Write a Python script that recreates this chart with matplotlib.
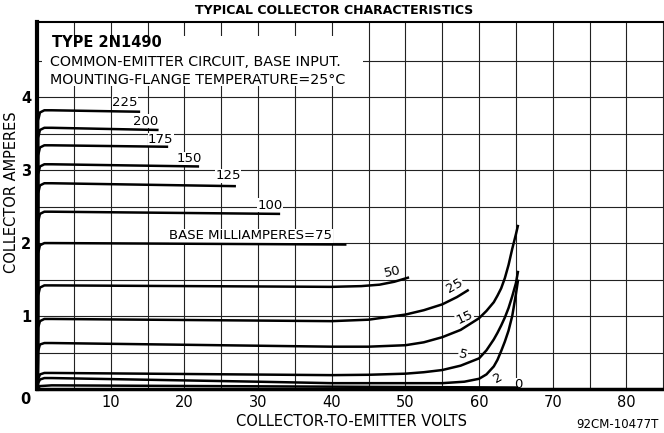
import matplotlib
matplotlib.use("Agg")
import matplotlib.pyplot as plt
from matplotlib.patches import Rectangle

# collector curves: (volts, amperes) for each base current in mA
base_ma = [225, 200, 175, 150, 125, 100, 75, 50, 25, 15, 5, 2, 0]

v225 = [0.1, 0.15, 0.4, 1.0, 2.0, 14.0]
i225 = [0.0, 3.68, 3.79, 3.82, 3.82, 3.80]
v200 = [0.1, 0.15, 0.4, 1.0, 2.0, 16.5]
i200 = [0.0, 3.44, 3.55, 3.58, 3.58, 3.55]
v175 = [0.1, 0.15, 0.4, 1.0, 2.0, 17.8]
i175 = [0.0, 3.20, 3.31, 3.34, 3.34, 3.32]
v150 = [0.1, 0.15, 0.4, 1.0, 2.0, 22.0]
i150 = [0.0, 2.94, 3.05, 3.08, 3.08, 3.05]
v125 = [0.1, 0.15, 0.4, 1.0, 2.0, 27.0]
i125 = [0.0, 2.68, 2.79, 2.82, 2.82, 2.78]
v100 = [0.1, 0.15, 0.4, 1.0, 2.0, 33.0]
i100 = [0.0, 2.29, 2.40, 2.43, 2.43, 2.40]
v75 = [0.1, 0.15, 0.4, 1.0, 2.0, 42.0]
i75 = [0.0, 1.86, 1.97, 2.00, 2.00, 1.98]
v50 = [0.1, 0.15, 0.4, 1.0, 2.0, 40.0, 44.0, 46.5, 48.5, 50.5]
i50 = [0.0, 1.28, 1.39, 1.42, 1.42, 1.40, 1.41, 1.43, 1.47, 1.53]
v25 = [0.1, 0.15, 0.4, 1.0, 2.0, 40.0, 45.0, 50.0, 52.5, 55.0, 57.0, 58.6]
i25 = [0.0, 0.84, 0.93, 0.96, 0.96, 0.93, 0.95, 1.02, 1.08, 1.16, 1.26, 1.36]
v15 = [0.1, 0.15, 0.4, 1.0, 2.0, 40.0, 45.0, 50.0, 52.5, 55.0, 57.5, 60.0, 61.0,
       62.0, 62.5, 63.0, 63.5, 64.0, 64.5, 65.0, 65.3]
i15 = [0.0, 0.52, 0.61, 0.63, 0.63, 0.58, 0.58, 0.60, 0.64, 0.71, 0.81, 0.97, 1.07,
       1.19, 1.28, 1.38, 1.52, 1.70, 1.92, 2.12, 2.25]
v5 = [0.1, 0.15, 0.4, 1.0, 2.0, 40.0, 45.0, 50.0, 52.5, 55.0, 57.5, 60.0, 61.0,
      62.0, 62.5, 63.0, 63.5, 64.0, 64.5, 65.0, 65.3]
i5 = [0.0, 0.13, 0.20, 0.22, 0.22, 0.19, 0.195, 0.21, 0.23, 0.26, 0.32, 0.42, 0.53,
      0.68, 0.77, 0.87, 0.98, 1.11, 1.27, 1.45, 1.62]
v2 = [0.1, 0.15, 0.4, 1.0, 2.0, 30.0, 40.0, 55.0, 58.0, 60.0, 61.0, 62.0, 62.5,
      63.0, 63.5, 64.0, 64.5, 65.0, 65.3]
i2 = [0.0, 0.08, 0.13, 0.15, 0.15, 0.10, 0.08, 0.08, 0.10, 0.14, 0.20, 0.31, 0.40,
      0.52, 0.65, 0.80, 1.00, 1.30, 1.50]
v0 = [0.1, 0.4, 2.0, 65.3]
i0 = [0.0, 0.04, 0.05, 0.02]

curves = [(v225, i225), (v200, i200), (v175, i175), (v150, i150), (v125, i125),
          (v100, i100), (v75, i75), (v50, i50), (v25, i25), (v15, i15),
          (v5, i5), (v2, i2), (v0, i0)]

# curve labels: text, volts, amperes, rotation
label_text = ["225", "200", "175", "150", "125", "100", "BASE MILLIAMPERES=75",
              "50", "25", "15", "5", "2", "0"]
label_v = [11.9, 14.7, 16.8, 20.6, 25.9, 31.6, 29.0, 48.2, 56.7, 58.0, 57.8, 62.6, 65.3]
label_i = [3.92, 3.67, 3.42, 3.16, 2.92, 2.52, 2.10, 1.61, 1.42, 0.99, 0.47, 0.15, 0.06]
label_rot = [0, 0, 0, 0, 0, 0, 0, 12, 30, 25, -15, 30, 0]

x_ticks = [10, 20, 30, 40, 50, 60, 70, 80]
y_ticks = [1, 2, 3, 4]

fig = plt.figure(figsize=(6.64, 4.33), dpi=100)
ax = fig.add_axes([37 / 664, 1 - 389 / 433, 1 - 37 / 664, 367 / 433])
ax.set_xlim(0, 85.1)
ax.set_ylim(0, 5.03)

# grid every 5 V and 0.5 A
for gx in range(5, 90, 5):
    ax.axvline(gx, color="#222222", lw=0.8, zorder=1)
for gy in [0.5, 1.0, 1.5, 2.0, 2.5, 3.0, 3.5, 4.0, 4.5]:
    ax.axhline(gy, color="#222222", lw=0.8, zorder=1)

# white panel behind the heading text
ax.add_patch(Rectangle((0.7, 4.15), 43.6, 0.69, facecolor="white", edgecolor="none", zorder=2))

for v, i in curves:
    ax.plot(v, i, color="black", lw=1.8, solid_capstyle="butt", zorder=3)

for t, lv, li, r in zip(label_text, label_v, label_i, label_rot):
    ax.text(lv, li, t, fontsize=9.5, ha="center", va="center", rotation=r,
            zorder=2.5, bbox=dict(facecolor="white", edgecolor="none", pad=0.3))

ax.text(2.0, 4.75, "TYPE 2N1490", fontsize=10.5, fontweight="bold", ha="left",
        va="center", zorder=4)
ax.text(1.7, 4.48, "COMMON-EMITTER CIRCUIT, BASE INPUT.", fontsize=10.3,
        ha="left", va="center", zorder=4)
ax.text(1.7, 4.23, "MOUNTING-FLANGE TEMPERATURE=25°C", fontsize=10.3,
        ha="left", va="center", zorder=4)

ax.set_xticks(x_ticks)
ax.set_yticks(y_ticks)
ax.set_xticklabels([str(t) for t in x_ticks], fontsize=10.5)
ax.set_yticklabels([str(t) for t in y_ticks], fontsize=10.5, fontweight="bold")
ax.tick_params(length=0, pad=4)
ax.text(-0.9, -0.15, "0", fontsize=10.5, fontweight="bold", ha="right", va="center",
        clip_on=False)

ax.spines["left"].set_linewidth(3)
ax.spines["bottom"].set_linewidth(2.5)
ax.spines["top"].set_linewidth(1.5)
ax.spines["right"].set_visible(False)

fig.text(0.503, 0.975, "TYPICAL COLLECTOR CHARACTERISTICS", fontsize=9,
         fontweight="bold", ha="center", va="center")
fig.text(12 / 664, 1 - 192 / 433, "COLLECTOR AMPERES", fontsize=10.5,
         rotation=90, ha="center", va="center")
fig.text(352 / 664, 1 - 422 / 433, "COLLECTOR-TO-EMITTER VOLTS", fontsize=10.5,
         ha="center", va="center")
fig.text(617 / 664, 1 - 424 / 433, "92CM-10477T", fontsize=8.5,
         ha="center", va="center")

fig.savefig("out.png", dpi=100)
